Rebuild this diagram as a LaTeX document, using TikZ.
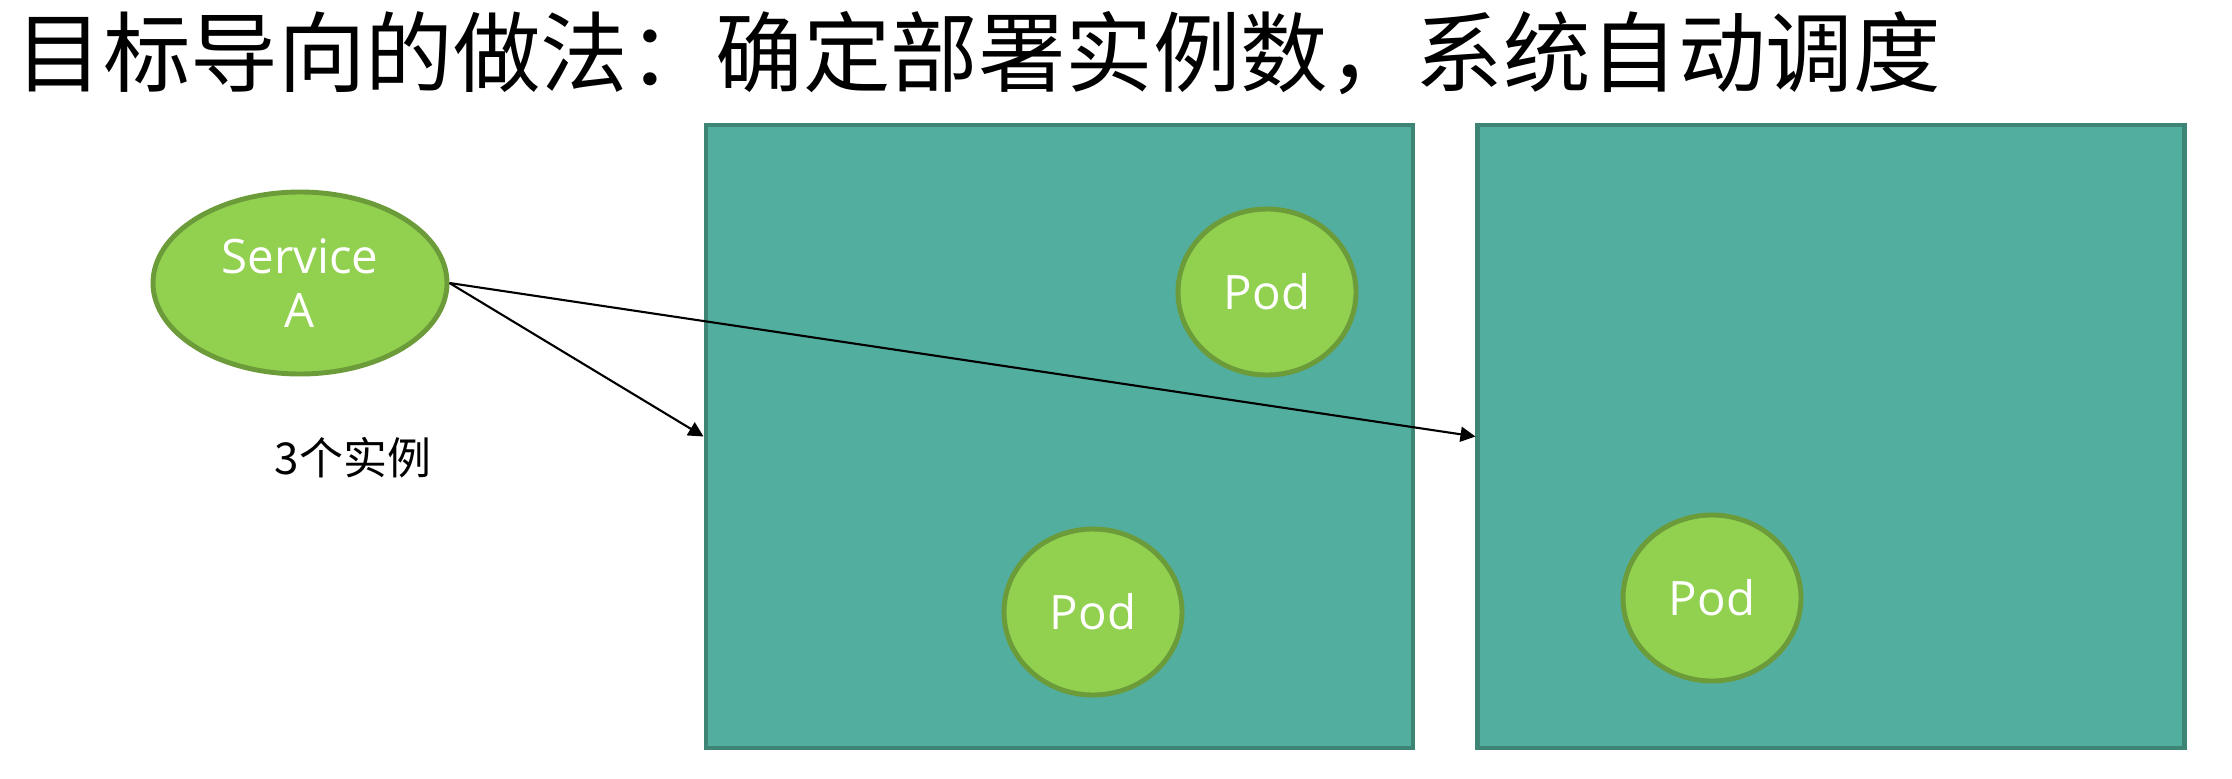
\documentclass[tikz,border=0pt]{standalone}
\usepackage{fontspec}
\setmainfont{Open Sans}
\newfontfamily\cjk{Noto Sans CJK SC}
\usepackage{tikz}
\usetikzlibrary{positioning,arrows.meta,shapes.geometric}
\definecolor{node}{HTML}{52AE9F}
\definecolor{nodedk}{HTML}{3E8576}
\definecolor{pod}{HTML}{92D050}
\definecolor{poddk}{HTML}{6C9B3A}

\begin{document}
\begin{tikzpicture}[
  box/.style={draw=nodedk,line width=1.4pt,fill=node,
              minimum width=7.07cm,minimum height=6.23cm,inner sep=0pt},
  pod/.style={ellipse,draw=poddk,line width=1.4pt,fill=pod,
              minimum width=1.78cm,minimum height=1.66cm,inner sep=0pt,
              font=\fontsize{13.5}{15}\selectfont,text=white,align=center},
  arr/.style={-{Triangle[length=1.5mm,width=1.5mm]},line width=0.6pt,black}]
  \useasboundingbox (0,0) rectangle (22.32,7.78);
  % title
  \node[anchor=west,inner sep=0pt,font=\cjk\fontsize{24.9}{26}\selectfont] (title)
    at (0.15,7.25) {目标导向的做法：确定部署实例数，系统自动调度};
  % service
  \node[pod,minimum width=2.94cm,minimum height=1.82cm,
        font=\fontsize{13.5}{15.5}\selectfont] (svc) at (3.00,4.95) {Service\\A};
  \node[font=\cjk\fontsize{12.5}{14}\selectfont] (cnt) at (3.53,3.20) {3个实例};
  % machines
  \node[box] (n1) at (10.595,3.415) {};
  \node[box,right=0.6cm of n1] (n2) {};
  \node[pod] (p1) at (12.67,4.86) {Pod};
  \node[pod] (p2) at (10.93,1.66) {Pod};
  \node[pod] (p3) at (17.12,1.80) {Pod};
  \draw[arr] (svc.east) -- (n1.west);
  \draw[arr] (svc.east) -- (n2.west);
\end{tikzpicture}
\end{document}
